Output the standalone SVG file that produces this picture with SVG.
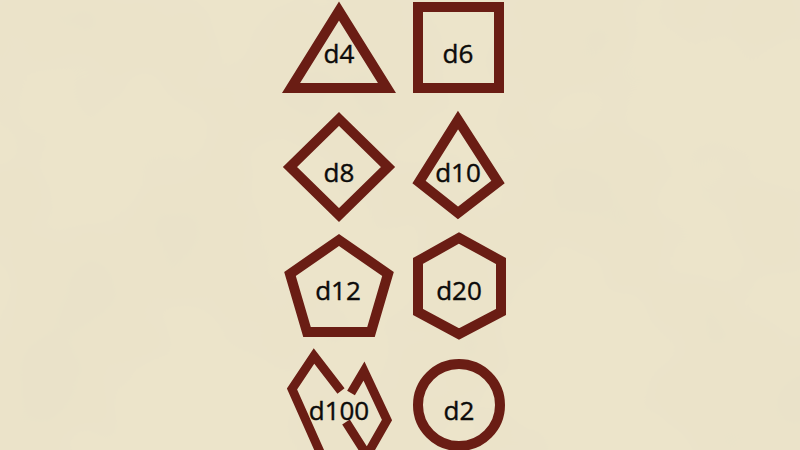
<svg xmlns="http://www.w3.org/2000/svg" width="800" height="450" viewBox="0 0 800 450">
  <defs>
    <filter id="mottle" x="0" y="0" width="100%" height="100%">
      <feTurbulence type="fractalNoise" baseFrequency="0.006" numOctaves="3" seed="7" result="n"/>
      <feColorMatrix in="n" type="matrix" values="0 0 0 0 0.80  0 0 0 0 0.74  0 0 0 0 0.57  1.0 0 0 0 -0.38"/>
    </filter>
    <style>
      .shape { fill: none; stroke: #6a1d14; stroke-width: 10; stroke-linejoin: miter; stroke-miterlimit: 10; }
      .open { fill: none; stroke: #6a1d14; stroke-width: 9; stroke-linejoin: miter; stroke-linecap: butt; stroke-miterlimit: 10; }
      .label { font-family: "Open Sans", "Noto Sans", "DejaVu Sans", sans-serif; font-size: 26px; fill: #0c0b0a; stroke: #0c0b0a; stroke-width: 0.4; text-anchor: middle; }
    </style>
  </defs>
  <rect width="800" height="450" fill="#ece4ca"/>
  <rect width="800" height="450" filter="url(#mottle)"/>

  <g id="d4">
    <polygon class="shape" points="339,11 291,88 387,88"/>
    <text class="label" x="339" y="63">d4</text>
  </g>
  <g id="d6">
    <rect class="shape" x="418" y="7" width="81" height="81"/>
    <text class="label" x="458" y="63">d6</text>
  </g>
  <g id="d8">
    <polygon class="shape" points="339,119 388,167 339,215 290,167"/>
    <text class="label" x="339" y="182">d8</text>
  </g>
  <g id="d10">
    <polygon class="shape" points="458,120 498,182 458,213 419,182"/>
    <text class="label" x="458" y="182">d10</text>
  </g>
  <g id="d12">
    <polygon class="shape" points="339,240 388,274 371,332 307,332 290,274"/>
    <text class="label" x="338" y="300">d12</text>
  </g>
  <g id="d20">
    <polygon class="shape" points="459,238 501,261 501,312 459,334 418,312 418,261"/>
    <text class="label" x="459" y="300">d20</text>
  </g>
  <g id="d100">
    <path class="open" d="M341,391 L314,356 L292,389 L320,452"/>
    <path class="open" d="M351,393 L364,371 L387,420 L367,455 L346,422"/>
    <text class="label" x="339" y="420">d100</text>
  </g>
  <g id="d2">
    <circle class="shape" cx="459" cy="405" r="41"/>
    <text class="label" x="459" y="420">d2</text>
  </g>
  <g id="connectors"/>
</svg>
